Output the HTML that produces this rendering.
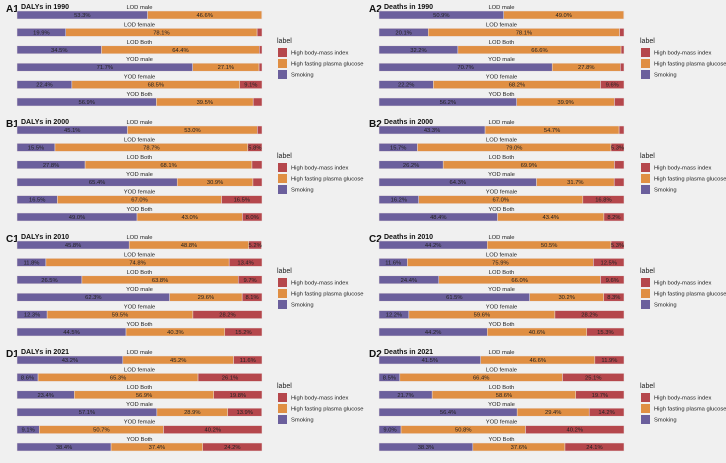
<!DOCTYPE html>
<html><head><meta charset="utf-8">
<style>
html,body{margin:0;padding:0;background:#f0f0f0;}
svg{display:block;font-family:"Liberation Sans",sans-serif;}
</style></head>
<body>
<svg id="chart" width="726" height="463" viewBox="0 0 726 463"></svg>
<script>
const categories = ["LOD male","LOD female","LOD Both","YOD male","YOD female","YOD Both"];
const seriesNames = ["Smoking","High fasting plasma glucose","High body-mass index"];
const panelTags = ["A1","A2","B1","B2","C1","C2","D1","D2"];
const panelTitles = ["DALYs in 1990","Deaths in 1990","DALYs in 2000","Deaths in 2000","DALYs in 2010","Deaths in 2010","DALYs in 2021","Deaths in 2021"];
const smoking = [
 [53.3,19.9,34.5,71.7,22.4,56.9],
 [50.9,20.1,32.2,70.7,22.2,56.2],
 [45.1,15.5,27.8,65.4,16.5,49.0],
 [43.3,15.7,26.2,64.3,16.2,48.4],
 [45.8,11.8,26.5,62.3,12.3,44.5],
 [44.2,11.6,24.4,61.5,12.2,44.2],
 [43.2,8.6,23.4,57.1,9.1,38.4],
 [41.5,8.5,21.7,56.4,9.0,38.3]];
const glucose = [
 [46.6,78.1,64.4,27.1,68.5,39.5],
 [49.0,78.1,66.6,27.8,68.2,39.9],
 [53.0,78.7,68.1,30.9,67.0,43.0],
 [54.7,79.0,69.9,31.7,67.0,43.4],
 [48.8,74.8,63.8,29.6,59.5,40.3],
 [50.5,75.9,66.0,30.2,59.6,40.6],
 [45.2,65.3,56.9,28.9,50.7,37.4],
 [46.6,66.4,58.6,29.4,50.8,37.6]];
const bmi = [
 [0.1,2.0,1.1,1.2,9.1,3.6],
 [0.1,1.8,1.2,1.5,9.6,3.9],
 [1.9,5.8,4.1,3.7,16.5,8.0],
 [2.0,5.3,3.9,4.0,16.8,8.2],
 [5.2,13.4,9.7,8.1,28.2,15.2],
 [5.3,12.5,9.6,8.3,28.2,15.3],
 [11.6,26.1,19.8,13.9,40.2,24.2],
 [11.9,25.1,19.7,14.2,40.2,24.1]];

const colors = ["#6b5f9c","#e08f43","#b5474c"];
const NS = "http://www.w3.org/2000/svg";
const svg = document.getElementById("chart");
function mk(tag, attrs, parent, text){
  const e = document.createElementNS(NS, tag);
  for (const k in attrs) e.setAttribute(k, attrs[k]);
  if (text !== undefined) e.textContent = text;
  parent.appendChild(e);
  return e;
}
for (let p = 0; p < 8; p++) {
  const col = p % 2, row = Math.floor(p / 2);
  const ox = col ? 363 : 0, oy = row * 115;
  const x0 = ox + (col ? 379 - 363 : 17), W = 245;
  const xScale = v => x0 + v / 100 * W;
  const yTop = i => oy + 11 + i * 17.4;
  const g = mk("g", {}, svg);
  
  
  const tag = mk("text", {x: ox + 6, y: oy + 12, "font-size": 10, "font-weight": "bold", fill: "#111"}, g, panelTags[p]);
  
  
  const tt = mk("text", {x: ox + 21, y: oy + 9, "font-size": 7, "font-weight": "bold", fill: "#111"}, g, panelTitles[p]);
  
  
  for (let i = 0; i < 6; i++) {
    const y = yTop(i);
    const cl = mk("text", {x: x0 + W / 2, y: y - 2, "font-size": 5.8, fill: "#222", "text-anchor": "middle"}, g, categories[i]);
    
    
    const vals = [smoking[p][i], glucose[p][i], bmi[p][i]];
    let cum = 0;
    for (let s = 0; s < 3; s++) {
      const a = xScale(cum), b = xScale(Math.min(100, cum + vals[s]));
      const r = mk("rect", {x: a, y: y, width: Math.max(0, b - a), height: 8, fill: colors[s], stroke: "#e8e0e0", "stroke-width": 0.5}, g);
      
      
      if (vals[s] >= 5) {
        const t = mk("text", {x: (a + b) / 2, y: y + 6, "font-size": 5.8, fill: "#222", "text-anchor": "middle"}, g, vals[s].toFixed(1) + "%");
        
        
      }
      cum += vals[s];
    }
  }
  const lg = mk("g", {}, g);
  
  
  const lx = ox + 278, ly = oy + 48;
  const lt = mk("text", {x: lx - 1, y: ly - 5, "font-size": 7, fill: "#222"}, lg, "label");
  
  
  const order = [2, 1, 0];
  for (let k = 0; k < 3; k++) {
    const s = order[k];
    const r = mk("rect", {x: lx, y: ly + k * 11, width: 9, height: 9, fill: colors[s]}, lg);
    
    
    const t = mk("text", {x: lx + 13, y: ly + k * 11 + 6.5, "font-size": 5.8, fill: "#222"}, lg, seriesNames[s]);
    
    
  }
}
</script>
</body></html>
